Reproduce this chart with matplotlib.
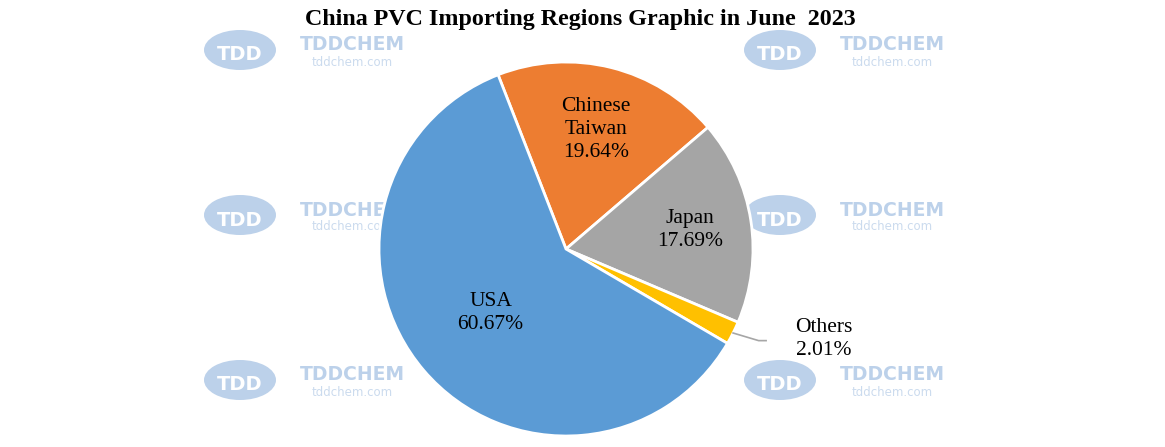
import numpy as np
import matplotlib.pyplot as plt
from matplotlib.patches import Ellipse

regions = ["Chinese\nTaiwan", "Japan", "Others", "USA"]
shares = [19.64, 17.69, 2.01, 60.67]
colors = ["#ED7D31", "#A5A5A5", "#FFC000", "#5B9BD5"]

W, H = 1165, 447
fig = plt.figure(figsize=(W / 100, H / 100), dpi=100)
fig.patch.set_facecolor("white")

# watermark behind the pie
wm = fig.add_axes([0, 0, 1, 1], zorder=0)
wm.set_xlim(0, W)
wm.set_ylim(H, 0)
wm.axis("off")
for x0 in (240, 780):
    for y0 in (50, 215, 380):
        wm.add_patch(Ellipse((x0, y0), 72, 40, color="#bcd1ea", lw=0))
        wm.text(x0, y0 + 5, "TDD", color="white", fontsize=14, fontweight="bold",
                ha="center", va="center", family="DejaVu Sans")
        wm.text(x0 + 112, y0 - 5, "TDDCHEM", color="#bcd1ea", fontsize=13.5,
                fontweight="bold", ha="center", va="center", family="DejaVu Sans")
        wm.text(x0 + 112, y0 + 12, "tddchem.com", color="#cbdbee", fontsize=8.5,
                ha="center", va="center", family="DejaVu Sans")

cx, cy, r = 566, 249, 187
ax = fig.add_axes([(cx - r) / W, (H - cy - r) / H, 2 * r / W, 2 * r / H], zorder=1)
ax.patch.set_alpha(0)
wedges, _ = ax.pie(shares, colors=colors, startangle=111.3, counterclock=False,
                   radius=1, wedgeprops=dict(edgecolor="white", linewidth=2))
ax.set_xlim(-1, 1)
ax.set_ylim(-1, 1)

font = dict(family="Liberation Serif", fontsize=15.5, ha="center", va="center",
            linespacing=1.3)
dist = {"Chinese\nTaiwan": 0.66, "Japan": 0.67, "USA": 0.53}
for w, name, val in zip(wedges, regions, shares):
    mid = np.deg2rad((w.theta1 + w.theta2) / 2)
    if name == "Others":
        x1, y1 = np.cos(mid), np.sin(mid)
        ax.plot([x1, 1.03, 1.07], [y1, -0.49, -0.49], color="#a6a6a6", lw=1.2,
                clip_on=False)
        ax.text(1.38, -0.48, f"{name}\n{val:.2f}%", **font)
    else:
        d = dist[name]
        ax.text(d * np.cos(mid), d * np.sin(mid), f"{name}\n{val:.2f}%", **font)

fig.text(580 / W, 1 - 20 / H, "China PVC Importing Regions Graphic in June  2023",
         family="Liberation Serif", fontsize=17.3, fontweight="bold",
         ha="center", va="center")

fig.savefig("out.png", dpi=100)
